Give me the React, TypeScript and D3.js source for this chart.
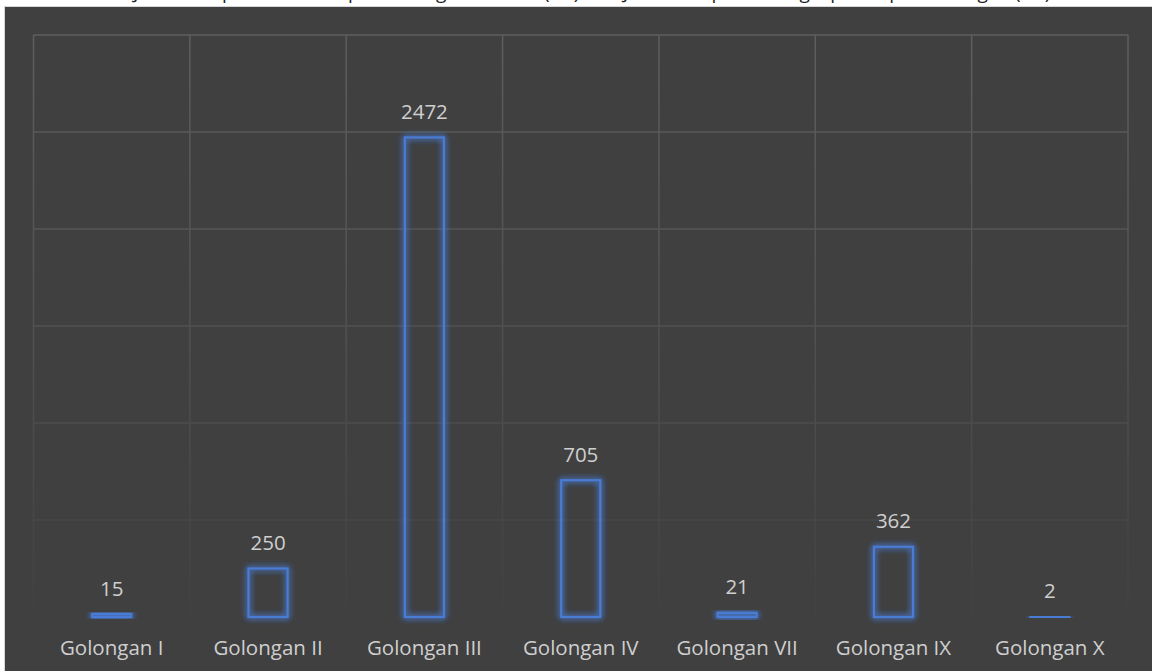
import React from "react";
import * as d3 from "d3";

const categories = ["Golongan I", "Golongan II", "Golongan III", "Golongan IV", "Golongan VII", "Golongan IX", "Golongan X"];
const values = [15, 250, 2472, 705, 21, 362, 2];
const yTicks = [0, 500, 1000, 1500, 2000, 2500, 3000];
const title = "Jumlah Kapal Perikanan per Golongan Ukuran (GT) dan Jumlah Kapal Penangkap Ikan per Golongan (GT)";

const W = 1152;
const H = 671;
const plot = { left: 33.5, right: 1128, top: 35, bottom: 617 };
const FONT = "'Open Sans', 'Noto Sans', sans-serif";

export default function App() {
  const x = d3.scaleBand<string>().domain(categories).range([plot.left, plot.right]).paddingInner(0).paddingOuter(0);
  const y = d3.scaleLinear().domain([0, 3000]).range([plot.bottom, plot.top]);
  const bw = x.bandwidth() * 0.25;
  const bounds = categories.map((c) => x(c) as number).concat([plot.right]);

  return (
    <div style={{ position: "absolute", left: 0, top: 0, width: W, height: H, overflow: "hidden", background: "#fff" }}>
      <svg width={W} height={H} style={{ display: "block" }}>
        <defs>
          <linearGradient id="gridGrad" gradientUnits="userSpaceOnUse" x1={0} y1={plot.top} x2={0} y2={plot.bottom}>
            <stop offset="0" stopColor="#5e5e5e" />
            <stop offset="0.6" stopColor="#4e4e4e" />
            <stop offset="1" stopColor="#414141" />
          </linearGradient>
          <filter id="glow" x="-50%" y="-50%" width="200%" height="200%">
            <feGaussianBlur in="SourceGraphic" stdDeviation="3" result="blur" />
            <feMerge>
              <feMergeNode in="blur" />
              <feMergeNode in="blur" />
              <feMergeNode in="SourceGraphic" />
            </feMerge>
          </filter>
        </defs>
        <text x={592} y={-1} textAnchor="middle" fontFamily={FONT} fontSize={19} fill="#222">{title}</text>
        <rect x={4.5} y={6.5} width={W} height={H} fill="#404040" stroke="#d6d6d6" strokeWidth={1} />
        {yTicks.slice(1).map((t) => (
          <line key={"h" + t} x1={plot.left} x2={plot.right} y1={y(t)} y2={y(t)} stroke="url(#gridGrad)" strokeWidth={1.5} />
        ))}
        {bounds.map((bx, i) => (
          <line key={"v" + i} x1={bx} x2={bx} y1={plot.top} y2={plot.bottom} stroke="url(#gridGrad)" strokeWidth={1.5} />
        ))}
        {categories.map((c, i) => {
          const cx = (x(c) as number) + x.bandwidth() / 2;
          const top = y(values[i]);
          const h = Math.max(plot.bottom - top, 0.5);
          return (
            <g key={c}>
              <rect
                x={cx - bw / 2}
                y={plot.bottom - h}
                width={bw}
                height={h}
                fill="none"
                stroke="#4a7bd4"
                strokeWidth={2.2}
                filter="url(#glow)"
              />
              <text x={cx} y={top - 18.5} textAnchor="middle" fontFamily={FONT} fontSize={20.5} fill="#cfcfcf">
                {values[i]}
              </text>
              <text x={cx} y={655} textAnchor="middle" fontFamily={FONT} fontSize={20.5} fill="#cfcfcf">
                {c}
              </text>
            </g>
          );
        })}
      </svg>
    </div>
  );
}
